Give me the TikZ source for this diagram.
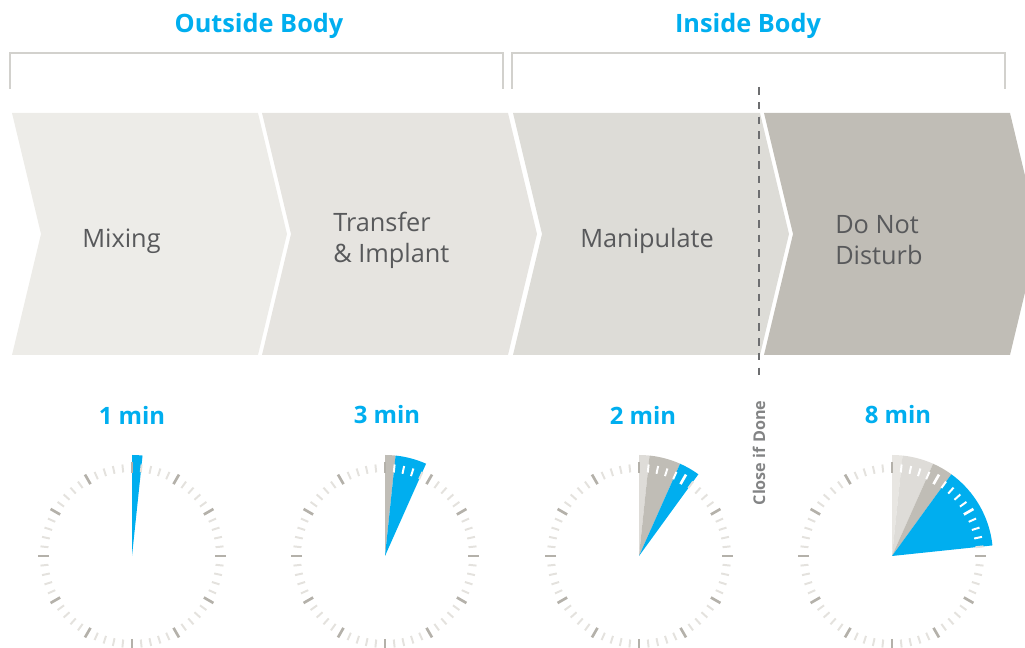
\documentclass[tikz,border=0pt]{standalone}
\usepackage{fontspec}
\setmainfont{Open Sans}
\usetikzlibrary{positioning}
\definecolor{doseBlue}{HTML}{00AEEF}
\definecolor{stageText}{HTML}{58595B}
\definecolor{stageA}{HTML}{EDECE8}
\definecolor{stageB}{HTML}{E6E4E0}
\definecolor{stageC}{HTML}{DDDCD7}
\definecolor{stageD}{HTML}{C0BDB6}
\definecolor{wedgeA}{HTML}{E8E6E2}
\definecolor{wedgeB}{HTML}{DEDCD8}
\definecolor{tickMajor}{HTML}{B4B1AA}
\definecolor{tickMinor}{HTML}{E4E2DE}
\definecolor{bracketGray}{HTML}{D2D1CD}
\definecolor{cutGray}{HTML}{6D6E70}

\begin{document}
\begin{tikzpicture}[x=0.025cm, y=0.025cm,
    phase/.style={font=\fontsize{18}{22}\selectfont\bfseries\color{doseBlue}},
    stagelabel/.style={anchor=west, align=left, inner sep=0pt,
                 font=\fontsize{18}{22}\selectfont\color{stageText}},
    mintext/.style={font=\fontsize{17}{20}\selectfont\bfseries\color{doseBlue}},
    closetext/.style={rotate=90, inner sep=0pt,
                 font=\fontsize{11.5}{13}\selectfont\bfseries\color{cutGray!85}},
    bracket/.style={draw=bracketGray, line width=1pt},
    cutline/.style={draw=cutGray, line width=1.4pt, dash pattern=on 5.5pt off 5pt},
  ]
    \useasboundingbox (0,0) rectangle (1025,648);
    \clip (0,0) rectangle (1025,648);

    % phases
    \node[phase] (outside) at (259,622) {Outside Body};
    \node[phase] (inside) at (748,622) {Inside Body};
    \draw[bracket] (10,559) -- (10,595) -- (503,595) -- (503,559);
    \draw[bracket] (512,559) -- (512,595) -- (1005,595) -- (1005,559);

    % chevrons
    \foreach \l/\r/\c in {12/258/stageA, 262/508/stageB, 513/760/stageC, 764/1010/stageD}{
      \fill[\c] (\l,535) -- (\r,535) -- (\r+29,414) -- (\r,293) -- (\l,293) -- (\l+29,414) -- cycle;
    }
    \node[stagelabel] (mix) at (82,407) {Mixing};
    \node[stagelabel] (trans) at (333,408) {Transfer\\\& Implant};
    \node[stagelabel] (manip) at (580,407) {Manipulate};
    \node[stagelabel] (dnd) at (835,408) {Do Not\\Disturb};

    % close if done
    \coordinate (cuttop) at (759,561);
    \node[closetext] (close) at (759,195) {Close if Done};
    \draw[cutline, shorten >=14pt] (cuttop) -- (close.east);

    % timers
    \node[mintext] (t1) at (132,233) {1 min};
    \node[mintext] (t2) at (387,233) {3 min};
    \node[mintext] (t3) at (643,233) {2 min};
    \node[mintext] (t4) at (898,233) {8 min};
    \foreach \i/\cx in {1/132, 2/385, 3/639, 4/892}{
      \coordinate (clk\i) at (\cx,92);
    }
    \foreach \i/\a/\b/\c in {1/0/1/doseBlue, 2/0/1/stageD, 2/1/4/doseBlue,
        3/0/1/wedgeB, 3/1/4/stageD, 3/4/6/doseBlue,
        4/0/1/wedgeA, 4/1/4/wedgeB, 4/4/6/stageD, 4/6/14/doseBlue}{
      \fill[\c] (clk\i) -- ++(90-6*\a:101) arc[start angle=90-6*\a, end angle=90-6*\b, radius=101] -- cycle;
    }
    \foreach \i/\n in {1/1, 2/4, 3/6, 4/14}{
      \foreach \m in {0,...,59}{
        \pgfmathtruncatemacro\major{mod(\m,5)==0 ? 1 : 0}
        \pgfmathtruncatemacro\inwedge{and(\m>0,\m<\n) ? 1 : 0}
        \ifnum\major=1 \def\rin{83}\def\rlen{11}\def\tcol{tickMajor}\def\tw{1.9pt}%
        \else \def\rin{84}\def\rlen{8}\def\tcol{tickMinor}\def\tw{1.4pt}\fi
        \ifnum\inwedge=1 \def\tcol{white}\fi
        \draw[line width=\tw, \tcol] (clk\i) ++(90-6*\m:\rin) -- ++(90-6*\m:\rlen);
      }
    }
  \end{tikzpicture}
\end{document}
